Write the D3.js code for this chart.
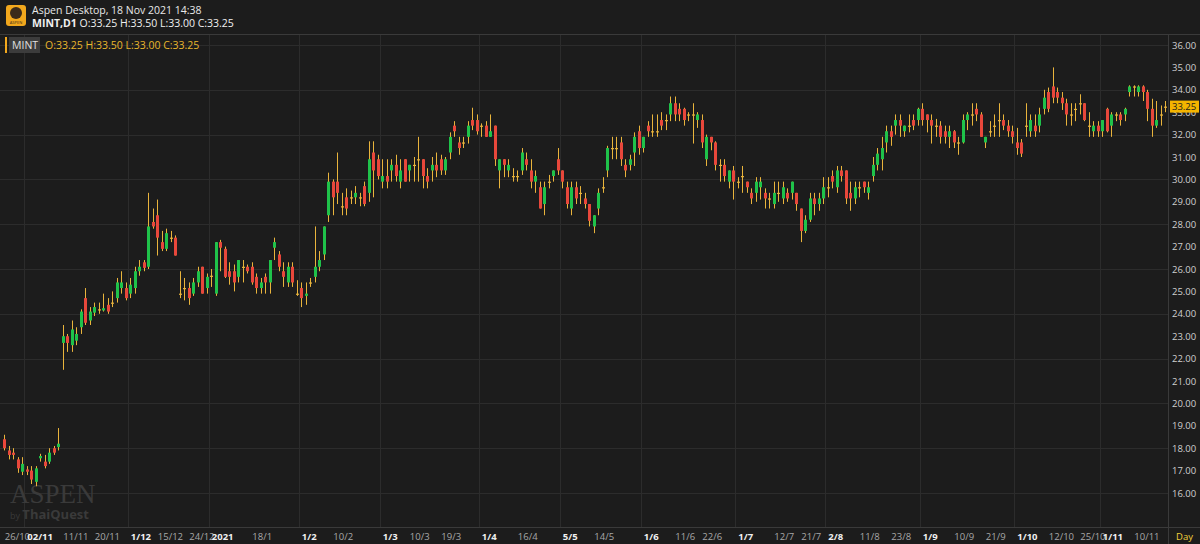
<!DOCTYPE html>
<html><head><meta charset="utf-8">
<script src="https://cdn.jsdelivr.net/npm/d3@7"></script>
<style>
body{margin:0;background:#1c1c1c;overflow:hidden}
svg{display:block;font-family:"Open Sans","Noto Sans",sans-serif}
</style></head>
<body><svg id="c" width="1200" height="544"></svg>
<script>
// daily candles, MINT, 23/10/2020 .. 18/11/2021
var opens = [18.4,17.9,17.8,17.5,16.95,17.05,17.0,16.5,17.55,17.4,17.4,18.0,18.05,22.7,23.0,22.6,22.8,23.4,24.7,23.7,
24.05,24.2,24.15,24.4,24.5,24.7,25.15,25.15,24.9,25.15,25.9,26.3,26.1,28.1,28.4,27.2,26.9,27.4,27.4,24.9,
25.15,25.15,24.9,25.4,26.1,25.15,25.7,24.9,27.2,26.9,25.9,25.9,25.65,26.1,26.1,26.1,25.65,25.15,25.65,25.4,
26.95,26.65,25.9,25.4,26.1,24.9,25.15,24.8,25.4,25.65,26.1,26.65,28.4,29.9,29.9,28.8,29.2,29.2,29.2,29.2,
29.7,29.4,31.2,30.9,29.9,30.15,30.4,30.65,29.9,30.9,30.4,30.65,30.9,30.9,30.15,30.4,30.65,30.9,30.4,31.2,
32.4,31.65,31.65,31.9,32.65,32.65,32.4,32.4,31.9,32.4,30.4,30.9,30.4,30.15,30.15,30.4,30.9,30.4,29.9,29.65,
28.9,29.9,30.15,30.9,30.4,29.65,28.7,29.65,29.4,29.15,28.9,27.9,28.7,29.65,30.4,31.4,31.4,31.65,30.65,30.65,
31.2,32.15,31.4,32.4,32.15,32.15,32.65,32.65,32.9,33.4,33.15,33.15,32.9,32.9,32.65,32.65,30.9,31.9,31.65,30.65,
30.65,29.9,30.4,29.9,30.15,29.9,29.4,29.4,29.65,29.4,29.15,28.9,29.4,29.15,29.4,29.4,29.4,28.7,27.7,28.2,
29.15,28.9,29.15,29.65,30.15,29.65,30.4,30.4,29.4,29.15,29.65,29.9,29.4,30.15,30.65,30.9,31.65,32.15,32.4,32.65,
32.15,32.4,32.65,32.65,33.15,32.9,32.65,32.4,32.4,32.15,31.9,32.15,31.65,31.65,32.65,32.9,33.15,32.9,31.65,32.15,
32.4,32.65,32.65,32.4,32.15,31.65,31.65,32.4,32.15,32.4,32.4,33.15,33.9,34.15,33.9,33.65,33.4,32.9,33.15,33.4,
33.4,32.4,32.15,32.4,32.15,33.15,32.4,32.9,32.9,32.9,33.9,34.15,33.9,34.15,33.9,33.15,32.4,32.9,33.25];
var highs = [18.6,18.1,18.0,17.6,17.6,17.2,17.2,17.2,17.75,17.7,18.0,18.1,18.9,23.5,23.1,23.7,23.4,24.2,25.15,24.3,
24.5,24.5,24.9,24.7,25.0,25.6,25.9,25.4,25.6,26.1,26.4,26.4,29.4,28.7,29.1,27.7,27.8,27.7,27.5,25.9,
25.6,25.4,25.6,26.1,26.1,25.8,26.0,27.2,27.3,27.0,26.3,26.2,26.4,26.4,26.2,26.3,25.8,25.6,25.8,26.4,
27.4,26.8,26.3,26.3,26.3,25.5,25.4,25.4,25.6,27.9,26.8,27.9,30.3,30.0,31.2,29.4,29.6,29.5,29.7,29.4,
29.9,31.7,31.7,31.1,30.9,30.9,30.9,31.1,30.9,30.9,30.65,31.0,31.9,30.9,30.5,31.0,31.2,31.1,31.0,32.1,
32.6,31.9,31.9,32.6,33.2,32.9,32.5,32.6,32.9,32.4,30.9,30.9,30.9,30.5,30.4,31.4,31.2,30.9,30.4,29.9,
29.9,30.2,30.4,31.4,30.4,29.9,29.9,29.9,29.7,29.4,28.9,28.4,29.6,30.1,31.5,31.9,31.9,31.9,30.9,31.1,
32.1,32.4,31.9,32.6,32.9,32.9,33.0,32.9,33.7,33.7,33.4,33.2,33.0,33.4,33.0,32.9,32.0,31.9,31.7,30.9,
30.9,30.4,30.6,30.1,30.6,29.9,29.6,30.1,30.1,29.6,29.4,29.9,29.9,29.9,29.6,29.9,29.4,28.7,28.4,29.4,
29.4,29.4,30.1,30.1,30.4,30.6,30.6,30.4,29.9,29.9,29.9,29.9,29.9,31.0,31.4,31.9,32.4,32.4,32.9,32.9,
32.4,32.9,32.9,33.2,33.4,32.9,32.9,32.7,32.6,32.4,32.4,32.2,31.9,32.9,33.0,33.4,33.4,33.0,31.9,32.6,
32.9,33.4,32.9,32.65,32.4,32.3,31.8,33.4,32.9,32.9,33.2,34.0,34.1,35.0,34.1,33.9,33.6,33.4,33.4,33.8,
33.4,33.0,32.6,32.6,32.65,33.2,33.0,33.0,33.0,33.2,34.2,34.2,34.2,34.2,34.0,33.6,33.5,33.3,33.5];
var lows = [17.9,17.5,17.5,16.9,16.8,16.8,16.4,16.3,17.4,17.1,17.3,17.7,17.9,21.5,22.3,22.3,22.6,23.1,23.5,23.5,
23.9,24.0,24.1,24.0,24.3,24.5,24.9,24.6,24.7,24.9,25.7,25.9,26.0,27.8,26.6,26.8,26.8,27.2,26.6,24.7,
24.6,24.4,24.8,25.2,24.9,24.9,25.2,24.8,25.9,25.6,25.3,25.0,25.4,25.4,25.8,25.3,24.9,24.9,24.9,24.9,
26.4,25.9,25.2,25.2,25.2,24.8,24.3,24.4,25.2,25.4,25.9,26.4,28.1,28.4,28.9,28.4,28.4,28.9,28.9,28.8,
28.8,29.0,29.2,30.0,29.6,29.6,29.9,29.9,29.6,29.9,29.9,29.9,29.9,29.6,29.6,29.9,30.1,30.2,30.2,30.9,
31.9,31.1,31.4,31.6,32.2,32.0,31.9,31.9,31.9,30.6,29.6,30.1,30.1,29.9,29.9,30.2,30.4,29.6,29.4,28.7,
28.4,29.6,29.9,30.2,29.6,28.7,28.4,28.9,28.9,28.7,27.9,27.6,28.4,29.4,30.1,30.9,30.9,30.6,30.1,30.4,
30.6,31.1,31.2,31.9,31.9,31.9,32.2,32.2,32.6,32.6,32.6,32.4,32.6,31.6,32.3,31.4,30.6,31.3,30.4,29.9,
29.9,29.6,29.1,29.6,29.4,29.4,28.9,29.0,29.1,28.7,28.7,28.7,29.0,28.9,29.0,29.1,28.6,27.2,27.6,28.1,
28.4,28.6,28.9,29.2,29.6,29.4,29.9,28.9,28.6,28.9,29.2,29.4,29.1,29.9,30.4,30.4,31.2,31.5,32.0,31.9,
31.9,32.1,32.2,32.4,32.4,32.1,31.6,31.9,31.6,31.6,31.4,31.4,31.1,31.6,32.2,32.4,32.6,31.9,31.4,31.9,
31.9,31.9,32.2,31.9,31.6,31.1,31.0,31.9,31.9,31.9,32.1,32.9,33.0,33.4,33.4,33.1,32.4,32.4,32.6,32.9,
32.6,31.9,31.9,31.9,31.9,32.1,31.9,32.6,32.4,32.6,33.7,33.7,33.7,33.5,32.6,31.9,32.3,32.4,33.0];
var closes = [18.0,17.7,17.7,17.1,17.3,16.95,16.6,17.1,17.65,17.2,17.8,17.8,18.2,23.0,22.7,23.3,23.1,24.1,23.6,24.1,
24.3,24.2,24.25,24.1,24.5,25.4,25.4,24.7,25.3,25.9,26.1,26.05,27.9,27.9,27.4,26.9,27.6,27.4,26.6,24.9,
25.15,24.7,25.4,25.9,24.9,25.65,25.7,27.2,26.95,25.65,25.65,25.4,26.4,26.1,25.9,25.4,25.15,25.4,25.4,26.4,
27.2,26.1,25.65,26.1,25.4,24.9,24.7,24.9,25.4,26.1,26.4,27.9,29.9,29.2,29.4,28.8,28.7,29.2,29.4,29.2,
28.9,30.9,30.4,30.15,30.15,29.9,30.65,30.15,30.4,29.9,30.65,30.65,30.9,30.15,29.9,30.65,30.4,30.4,30.9,31.9,
32.15,31.4,31.65,32.4,32.4,32.15,32.4,31.9,32.15,30.9,30.9,30.65,30.65,30.15,30.15,31.2,30.65,29.9,30.15,28.7,
29.65,29.9,30.4,30.4,29.9,28.9,29.65,29.15,29.4,28.9,28.15,28.4,29.4,29.65,31.4,31.4,31.4,30.9,30.4,30.9,
31.9,31.4,31.9,32.15,32.15,32.15,32.4,32.65,33.4,32.9,32.9,32.65,32.9,32.9,32.9,31.65,31.9,31.65,30.65,30.65,
30.15,30.4,29.9,29.9,30.15,29.65,29.15,29.9,29.9,29.15,29.15,29.4,29.4,29.65,29.15,29.9,28.9,27.7,28.2,29.15,
28.9,29.15,29.65,29.65,29.9,30.4,30.15,29.15,29.15,29.65,29.65,29.65,29.65,30.65,31.15,31.4,32.15,31.9,32.65,32.4,
32.4,32.4,32.4,33.15,32.65,32.65,32.4,32.4,31.9,31.9,32.15,31.65,31.65,32.65,32.9,32.9,32.9,31.9,31.9,32.15,
32.4,32.65,32.4,32.15,31.9,31.4,31.15,32.4,32.65,32.15,32.9,33.65,33.15,33.65,33.65,33.4,32.9,32.9,33.15,33.4,
32.65,32.4,32.4,32.15,32.65,32.15,32.9,32.9,32.65,33.15,34.15,34.15,34.15,33.9,33.15,32.4,32.65,32.9,33.25];

var dateLabels = ["26/10","02/11","11/11","20/11","1/12","15/12","24/12","2021","18/1","1/2","10/2","1/3","10/3","19/3","1/4","16/4",
  "5/5","14/5","1/6","11/6","22/6","1/7","12/7","21/7","2/8","11/8","23/8","1/9","10/9","21/9","1/10","12/10","25/10","1/11","10/11"];
var dateIndex = [0,5,13,20,28,34,41,46,55,66,73,84,90,97,106,114,124,131,142,149,155,163,171,177,183,190,197,204,211,218,225,232,239,244,251];
var monthStart = ["02/11","1/12","2021","1/2","1/3","1/4","5/5","1/6","1/7","2/8","1/9","1/10","1/11"];
var priceTicks = d3.range(16, 36.01, 1);

var W = 1200, H = 544, plotR = 1168, plotT = 34, plotB = 527;
var GREEN = "#1fc24a", RED = "#e8473b", WICK = "#e9b43c";
var svg = d3.select("#c");

var x = d3.scaleBand().domain(d3.range(opens.length)).range([1.8, 1167.3]);
var y = d3.scaleLinear().domain([16, 36]).range([493, 45]);

// grid
var g = svg.append("g");
g.selectAll("line.h").data(priceTicks.filter(function(d){ return d % 2 === 0; })).enter()
  .append("line").attr("x1", 0).attr("x2", plotR)
  .attr("y1", function(d){ return Math.round(y(d)) + 0.5; }).attr("y2", function(d){ return Math.round(y(d)) + 0.5; })
  .attr("stroke", "#2c2c2c");
var vIdx = dateIndex.filter(function(d, i){ return monthStart.indexOf(dateLabels[i]) >= 0; });
g.selectAll("line.v").data(vIdx).enter()
  .append("line").attr("y1", plotT).attr("y2", plotB)
  .attr("x1", function(d){ return Math.round(x(d)) + 0.5; }).attr("x2", function(d){ return Math.round(x(d)) + 0.5; })
  .attr("stroke", "#2c2c2c");

// watermark
svg.append("text").attr("x", 10).attr("y", 503).attr("font-family", "Liberation Serif, serif")
  .attr("font-size", 27).attr("fill", "#3a3a3a").text("ASPEN");
svg.append("text").attr("x", 10).attr("y", 519).attr("font-size", 9).attr("fill", "#3a3a3a")
  .html('by <tspan font-size="13" font-weight="bold">ThaiQuest</tspan>');

// candles
var bw = 3;
var c = svg.append("g").selectAll("g").data(opens).enter().append("g")
  .attr("transform", function(d, i){ return "translate(" + (Math.round(x(i) + x.bandwidth() / 2) + 0.5) + ",0)"; });
c.append("line").attr("y1", function(d, i){ return y(highs[i]); }).attr("y2", function(d, i){ return y(lows[i]); })
  .attr("stroke", WICK).attr("stroke-width", 1);
c.append("rect").attr("x", -bw / 2)
  .attr("width", bw)
  .attr("y", function(d, i){ return y(Math.max(opens[i], closes[i])); })
  .attr("height", function(d, i){ return Math.max(1.2, Math.abs(y(opens[i]) - y(closes[i]))); })
  .attr("fill", function(d, i){
    if (opens[i] === closes[i]) return WICK;
    return closes[i] > opens[i] ? GREEN : RED;
  });

// right axis
svg.append("line").attr("x1", plotR + 0.5).attr("x2", plotR + 0.5).attr("y1", plotT).attr("y2", H).attr("stroke", "#3a3a3a");
svg.append("g").selectAll("text").data(priceTicks).enter().append("text")
  .attr("x", plotR + 4).attr("y", function(d){ return y(d) + 3.5; })
  .attr("font-size", 9.5).attr("fill", "#d0d0d0").text(function(d){ return d.toFixed(2); });
var last = closes[closes.length - 1];
svg.append("rect").attr("x", plotR + 2).attr("y", y(last) - 6).attr("width", 29).attr("height", 12).attr("fill", "#f4b400");
svg.append("text").attr("x", plotR + 4).attr("y", y(last) + 3.5).attr("font-size", 9.5).attr("fill", "#1c1c1c").text(last.toFixed(2));

// bottom axis
svg.append("line").attr("x1", 0).attr("x2", W).attr("y1", plotB + 0.5).attr("y2", plotB + 0.5).attr("stroke", "#3a3a3a");
svg.append("g").selectAll("text").data(dateLabels).enter().append("text")
  .attr("x", function(d, i){ return x(dateIndex[i]) + 3; }).attr("y", 540)
  .attr("font-size", 9.5)
  .attr("font-weight", function(d){ return monthStart.indexOf(d) >= 0 ? "bold" : "normal"; })
  .attr("fill", function(d){ return monthStart.indexOf(d) >= 0 ? "#f0f0f0" : "#a8a8a8"; })
  .text(function(d){ return d; });
svg.append("text").attr("x", 1176).attr("y", 540).attr("font-size", 9.5).attr("fill", "#f2d13a").text("Day");

// header
svg.append("rect").attr("x", 0).attr("y", 0).attr("width", W).attr("height", plotT).attr("fill", "#1c1c1c");
svg.append("line").attr("x1", 0).attr("x2", W).attr("y1", plotT + 0.5).attr("y2", plotT + 0.5).attr("stroke", "#3a3a3a");
svg.append("rect").attr("x", 6).attr("y", 5).attr("width", 20).attr("height", 21).attr("rx", 3).attr("fill", "#f2a81d");
svg.append("circle").attr("cx", 16).attr("cy", 13).attr("r", 6).attr("fill", "#3a2a1a");
svg.append("text").attr("x", 16).attr("y", 24).attr("text-anchor", "middle").attr("font-size", 4).attr("fill", "#3a2a1a").text("ASPEN");
svg.append("text").attr("x", 32).attr("y", 14).attr("font-size", 10.5).attr("fill", "#e8e8e8").text("Aspen Desktop, 18 Nov 2021 14:38");
svg.append("text").attr("x", 32).attr("y", 27).attr("font-size", 10.5).attr("fill", "#f0f0f0")
  .html('<tspan font-weight="bold">MINT,D1</tspan> O:33.25 H:33.50 L:33.00 C:33.25');

// legend
svg.append("rect").attr("x", 5).attr("y", 37).attr("width", 2).attr("height", 16).attr("fill", "#f2a81d");
svg.append("rect").attr("x", 9).attr("y", 37).attr("width", 31).attr("height", 16).attr("fill", "#3c3c3c");
svg.append("text").attr("x", 12).attr("y", 49).attr("font-size", 10.5).attr("fill", "#e0e0e0").text("MINT");
svg.append("text").attr("x", 45).attr("y", 49).attr("font-size", 10.5).attr("fill", "#e8b62c")
  .text("O:" + opens[opens.length - 1].toFixed(2) + " H:" + highs[highs.length - 1].toFixed(2) +
        " L:" + lows[lows.length - 1].toFixed(2) + " C:" + last.toFixed(2));
</script></body></html>
